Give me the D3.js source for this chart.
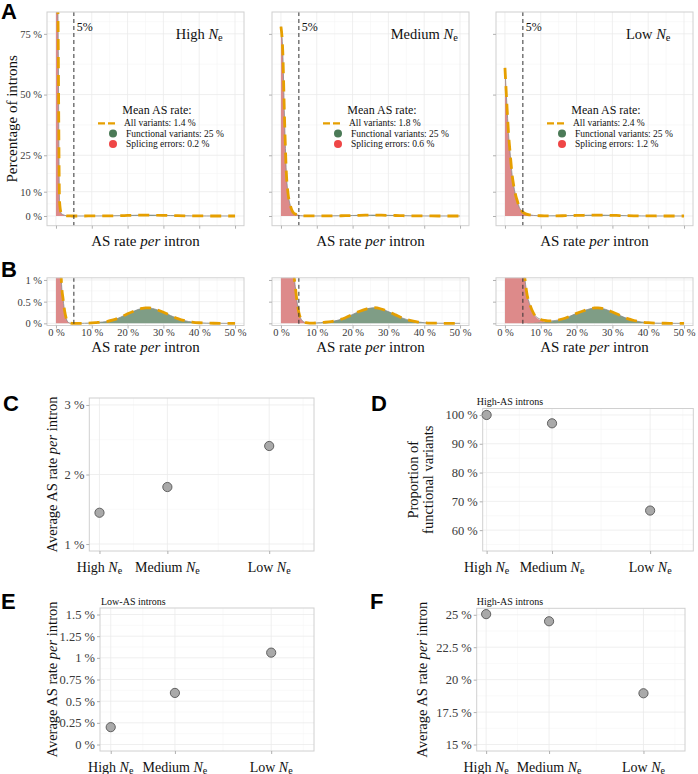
<!DOCTYPE html>
<html><head><meta charset="utf-8">
<script src="https://cdn.jsdelivr.net/npm/d3@7"></script>
<style>body{margin:0;background:#fff;} svg{display:block;}</style>
</head><body>
<svg id="chart" width="698" height="774"></svg>
<script>
// ================= DATA =================
// x grid of AS rate per intron (%)
const asRate = [0,0.5,1,1.5,2,2.5,3,3.5,4,4.5,5,6,7,8,9,10,11,12,14,16,18,20,22,24,25,26,28,30,32,34,36,38,40,42,44,46,48,50];
// density (% of introns) of splicing errors, per Ne class
const errHigh   = [95,88,6,1.0,0.55,0.25,0.08,0.02,0.005,0,0, 0,0,0,0,0,0,0, 0,0,0,0,0,0, 0,0, 0,0,0,0,0,0,0,0,0,0,0,0];
const errMedium = [78,68,40,18,9,5,2.6,1.3,0.85,0.5,0.25, 0.06,0.015,0.003,0,0,0,0, 0,0,0,0,0,0, 0,0, 0,0,0,0,0,0,0,0,0,0,0,0];
const errLow    = [61,47,34,25,17,12,8.5,6,3.6,2.4,1.6, 0.75,0.42,0.22,0.12,0.07,0.04,0.02, 0.005,0,0,0,0,0, 0,0, 0,0,0,0,0,0,0,0,0,0,0,0];
// density (% of introns) of functional variants
const funcHigh   = [0,0,0,0,0,0,0,0,0,0,0, 0,0,0.002,0.005,0.01,0.016,0.024, 0.04,0.078,0.14,0.22,0.29,0.345, 0.358,0.355, 0.32,0.255,0.18,0.11,0.06,0.03,0.013,0.005,0.002,0.001,0,0];
const funcMedium = [0,0,0,0,0,0,0,0,0,0,0, 0,0,0.002,0.005,0.01,0.015,0.022, 0.04,0.075,0.13,0.205,0.28,0.335, 0.352,0.36, 0.33,0.27,0.195,0.12,0.068,0.034,0.015,0.006,0.002,0.001,0,0];
const funcLow    = [0,0,0,0,0,0,0,0,0,0,0, 0.002,0.005,0.01,0.015,0.02,0.027,0.035, 0.06,0.1,0.16,0.23,0.29,0.34, 0.355,0.355, 0.325,0.26,0.185,0.115,0.065,0.032,0.014,0.005,0.002,0,0,0];

const neLevels = ["High", "Medium", "Low"];
const meanAll  = [1.4, 1.8, 2.4];
const meanFunc = [25, 25, 25];
const meanErr  = [0.2, 0.6, 1.2];

const yTicksA = [0, 10, 25, 50, 75];
const yTicksB = [0, 0.5, 1];
const xTicksAB = [0, 10, 20, 30, 40, 50];

// panel C: average AS rate per intron (%)
const avgAS = [1.45, 1.82, 2.41];
// panel D: proportion of functional variants in high-AS introns (%)
const propFunctional = [100, 97.1, 66.8];
// panel E: average AS rate, low-AS introns (%)
const avgLowAS = [0.2, 0.595, 1.06];
// panel F: average AS rate, high-AS introns (%)
const avgHighAS = [25.05, 24.5, 18.95];

const yTicksC = [1, 2, 3];
const yTicksD = [60, 70, 80, 90, 100];
const yTicksE = [0, 0.25, 0.5, 0.75, 1, 1.25, 1.5];
const yTicksF = [15, 17.5, 20, 22.5, 25];

// ================= STYLE =================
const SERIF = '"Liberation Serif","Times New Roman",serif';
const SANS = '"Liberation Sans",Arial,sans-serif';
const COL = {border:'#d0d0d0', major:'#ebebeb', minor:'#f5f5f5', tick:'#b0b0b0', tickText:'#3a3a3a',
  red:'#dd8a8a', green:'#7f9d86', orange:'#E69F00', legRed:'#ef4646', legGreen:'#4b7a57', line:'#8a8a8a'};

const svg = d3.select('#chart');
let clipN = 0;

function minorOf(ticks, domain) {
  const bd = ticks[1] - ticks[0];
  const ext = [ticks[0] - bd, ...ticks, ticks[ticks.length - 1] + bd];
  const out = [];
  for (let i = 1; i < ext.length; i++) out.push((ext[i] + ext[i - 1]) / 2);
  const lo = Math.min(...domain), hi = Math.max(...domain);
  return out.filter(v => v > lo && v < hi);
}

function drawPanelBg(x, y, xMaj, xMin, yMaj, yMin) {
  const [x0, x1] = x.range();
  const [yb, yt] = y.range();
  const g = svg.append('g');
  g.append('rect').attr('x', x0).attr('y', yt).attr('width', x1 - x0).attr('height', yb - yt).attr('fill', '#fff');
  g.selectAll('.vmin').data(xMin).join('line').attr('x1', d => x(d)).attr('x2', d => x(d)).attr('y1', yt).attr('y2', yb).attr('stroke', COL.minor).attr('stroke-width', 0.6);
  g.selectAll('.hmin').data(yMin).join('line').attr('y1', d => y(d)).attr('y2', d => y(d)).attr('x1', x0).attr('x2', x1).attr('stroke', COL.minor).attr('stroke-width', 0.6);
  g.selectAll('.vmaj').data(xMaj).join('line').attr('x1', d => x(d)).attr('x2', d => x(d)).attr('y1', yt).attr('y2', yb).attr('stroke', COL.major).attr('stroke-width', 0.8);
  g.selectAll('.hmaj').data(yMaj).join('line').attr('y1', d => y(d)).attr('y2', d => y(d)).attr('x1', x0).attr('x2', x1).attr('stroke', COL.major).attr('stroke-width', 0.8);
  const id = 'clip' + (clipN++);
  svg.append('clipPath').attr('id', id).append('rect').attr('x', x0).attr('y', yt).attr('width', x1 - x0).attr('height', yb - yt);
  return id;
}
function drawBorder(x, y) {
  const [x0, x1] = x.range();
  const [yb, yt] = y.range();
  svg.append('rect').attr('x', x0).attr('y', yt).attr('width', x1 - x0).attr('height', yb - yt)
    .attr('fill', 'none').attr('stroke', COL.border).attr('stroke-width', 1);
}
function styleAxis(g, fs) {
  g.select('.domain').remove();
  g.attr('font-family', SERIF).attr('font-size', fs);
  g.selectAll('.tick line').attr('stroke', COL.tick);
  g.selectAll('.tick text').attr('fill', COL.tickText).attr('font-family', SERIF).attr('font-size', fs);
}
function neText(sel, prefix) {
  sel.append('tspan').text(prefix + ' ');
  sel.append('tspan').attr('font-style', 'italic').text('N');
  sel.append('tspan').attr('font-size', '0.72em').attr('dy', '0.3em').text('e');
}
function perText(sel, pre, post) {
  sel.append('tspan').text(pre);
  sel.append('tspan').attr('font-style', 'italic').text('per');
  sel.append('tspan').text(post);
}
const pct = d => d + ' %';

// ================= PANELS A & B =================
const facetLeft = [47, 272, 496], facetW = 197;
const errSeries = [errHigh, errMedium, errLow];
const funcSeries = [funcHigh, funcMedium, funcLow];

function drawDensity(i, y, isA) {
  const left = facetLeft[i];
  const x = d3.scaleLinear().domain([-2.5, 52.5]).range([left, left + facetW]);
  const clip = drawPanelBg(x, y, xTicksAB, minorOf(xTicksAB, x.domain()), isA ? yTicksA : yTicksB, minorOf(isA ? yTicksA : yTicksB, y.domain()));
  const err = errSeries[i], fun = funcSeries[i];
  const pts = asRate.map((r, k) => ({r, e: err[k], f: fun[k], t: err[k] + fun[k]}));
  const g = svg.append('g').attr('clip-path', `url(#${clip})`);
  const area = key => d3.area().x(d => x(d.r)).y0(y(0)).y1(d => y(d[key])).curve(d3.curveMonotoneX);
  const line = key => d3.line().x(d => x(d.r)).y(d => y(d[key])).curve(d3.curveMonotoneX);
  g.append('path').datum(pts).attr('d', area('e')).attr('fill', COL.red);
  g.append('path').datum(pts).attr('d', area('f')).attr('fill', COL.green);
  g.append('path').datum(pts).attr('d', line('t')).attr('fill', 'none').attr('stroke', COL.line).attr('stroke-width', 0.8);
  g.append('path').datum(pts).attr('d', line('t')).attr('fill', 'none').attr('stroke', COL.orange).attr('stroke-width', 2.8).attr('stroke-dasharray', '11,7');
  const [yb, yt] = y.range();
  g.append('line').attr('x1', x(5)).attr('x2', x(5)).attr('y1', yt).attr('y2', yb).attr('stroke', '#333').attr('stroke-width', 1).attr('stroke-dasharray', '4,3');
  drawBorder(x, y);
  // axes
  const ay = svg.append('g').attr('transform', `translate(${left},0)`)
    .call(d3.axisLeft(y).tickValues(isA ? yTicksA : yTicksB).tickSize(3).tickPadding(2).tickFormat(i === 0 ? pct : () => ''));
  styleAxis(ay, 10.5);
  const ax = svg.append('g').attr('transform', `translate(0,${yb})`)
    .call(d3.axisBottom(x).tickValues(xTicksAB).tickSize(3).tickPadding(0).tickFormat(isA ? () => '' : pct));
  styleAxis(ax, 10.5);
  // x title
  const xt = svg.append('text').attr('x', left + facetW / 2).attr('y', isA ? 241 : 346.5)
    .attr('text-anchor', 'middle').attr('dominant-baseline', 'central')
    .attr('font-family', SERIF).attr('font-size', 15).attr('fill', '#111');
  perText(xt, 'AS rate ', ' intron');
  if (isA) {
    svg.append('text').attr('x', x(5) + 3).attr('y', y(78)).attr('dominant-baseline', 'central')
      .attr('font-family', SERIF).attr('font-size', 12).attr('fill', '#111').text('5%');
    const fl = svg.append('text').attr('x', x(40)).attr('y', y(75)).attr('text-anchor', 'middle').attr('dominant-baseline', 'central')
      .attr('font-family', SERIF).attr('font-size', 14.5).attr('fill', '#111');
    neText(fl, neLevels[i]);
    // legend
    const lg = svg.append('g').attr('font-family', SERIF).attr('fill', '#111');
    lg.append('text').attr('x', left + 110).attr('y', 110).attr('text-anchor', 'middle').attr('dominant-baseline', 'central')
      .attr('font-size', 12).text('Mean AS rate:');
    lg.append('line').attr('x1', left + 51).attr('x2', left + 69).attr('y1', 123.3).attr('y2', 123.3)
      .attr('stroke', COL.orange).attr('stroke-width', 2.2).attr('stroke-dasharray', '7,3');
    lg.append('text').attr('x', left + 77).attr('y', 123.3).attr('dominant-baseline', 'central').attr('font-size', 9.5)
      .text('All variants: ' + meanAll[i] + ' %');
    lg.append('circle').attr('cx', left + 66).attr('cy', 133.5).attr('r', 4).attr('fill', COL.legGreen);
    lg.append('text').attr('x', left + 79).attr('y', 133.5).attr('dominant-baseline', 'central').attr('font-size', 9.5)
      .text('Functional variants: ' + meanFunc[i] + ' %');
    lg.append('circle').attr('cx', left + 66).attr('cy', 144).attr('r', 4).attr('fill', COL.legRed);
    lg.append('text').attr('x', left + 79).attr('y', 144).attr('dominant-baseline', 'central').attr('font-size', 9.5)
      .text('Splicing errors: ' + meanErr[i] + ' %');
  }
}

const yA = d3.scaleLinear().domain([-4, 84]).range([225.7, 12]);
const yB = d3.scaleLinear().domain([-0.05, 1.05]).range([325.5, 277.8]);
for (let i = 0; i < 3; i++) { drawDensity(i, yA, true); drawDensity(i, yB, false); }

svg.append('text').attr('transform', `translate(12,${(225.7 + 12) / 2}) rotate(-90)`)
  .attr('text-anchor', 'middle').attr('dominant-baseline', 'central')
  .attr('font-family', SERIF).attr('font-size', 15).attr('fill', '#111').text('Percentage of introns');

// ================= PANELS C-F =================
const nePos = d3.scaleOrdinal().domain(neLevels).range([0, 1, 2.5]);
const scatterPanels = [
  {vals: avgAS, L: 89.3, R: 314, T: 398, B: 551, xd: [-0.15, 3.16], yd: [0.9, 3.1], yt: yTicksC, ylab: 'per', labX: 51.7, title: null},
  {vals: propFunctional, L: 482.7, R: 693.3, T: 408.5, B: 551, xd: [-0.06, 3.16], yd: [52.75, 102.25], yt: yTicksD, ylab: 'prop', labX: 420, title: 'High-AS introns', titleX: 476.7, titleY: 401.7},
  {vals: avgLowAS, L: 100, R: 314, T: 608, B: 751, xd: [-0.167, 3.167], yd: [-0.075, 1.575], yt: yTicksE, ylab: 'per', labX: 51.7, title: 'Low-AS introns', titleX: 101, titleY: 601.7},
  {vals: avgHighAS, L: 476.7, R: 685, T: 608.3, B: 751, xd: [-0.15, 3.16], yd: [14.5, 25.5], yt: yTicksF, ylab: 'per', labX: 421.7, title: 'High-AS introns', titleX: 476.7, titleY: 601.7}
];

scatterPanels.forEach(p => {
  const x = d3.scaleLinear().domain(p.xd).range([p.L, p.R]);
  const y = d3.scaleLinear().domain(p.yd).range([p.B, p.T]);
  const xMaj = neLevels.map(n => nePos(n));
  drawPanelBg(x, y, xMaj, minorOf(xMaj, p.xd), p.yt, minorOf(p.yt, p.yd));
  drawBorder(x, y);
  svg.append('g').selectAll('circle').data(neLevels).join('circle')
    .attr('cx', n => x(nePos(n))).attr('cy', (n, i) => y(p.vals[i])).attr('r', 4.6)
    .attr('fill', '#a9a9a9').attr('stroke', '#555').attr('stroke-width', 0.9);
  const ay = svg.append('g').attr('transform', `translate(${p.L},0)`)
    .call(d3.axisLeft(y).tickValues(p.yt).tickSize(3).tickPadding(2).tickFormat(pct));
  styleAxis(ay, 12.5);
  const ax = svg.append('g').attr('transform', `translate(0,${p.B})`)
    .call(d3.axisBottom(x).tickValues(xMaj).tickSize(3).tickFormat(() => ''));
  styleAxis(ax, 12.5);
  neLevels.forEach(n => {
    const t = svg.append('text').attr('x', x(nePos(n))).attr('y', p.B + 15.5).attr('text-anchor', 'middle')
      .attr('dominant-baseline', 'central').attr('font-family', SERIF).attr('font-size', 14).attr('fill', '#111');
    neText(t, n);
  });
  const cy = (p.T + p.B) / 2;
  if (p.ylab === 'per') {
    const t = svg.append('text').attr('transform', `translate(${p.labX},${cy}) rotate(-90)`)
      .attr('text-anchor', 'middle').attr('dominant-baseline', 'central')
      .attr('font-family', SERIF).attr('font-size', 14.5).attr('fill', '#111');
    perText(t, 'Average AS rate ', ' intron');
  } else {
    svg.append('text').attr('transform', `translate(413,${cy}) rotate(-90)`)
      .attr('text-anchor', 'middle').attr('dominant-baseline', 'central')
      .attr('font-family', SERIF).attr('font-size', 14.5).attr('fill', '#111').text('Proportion of');
    svg.append('text').attr('transform', `translate(428,${cy}) rotate(-90)`)
      .attr('text-anchor', 'middle').attr('dominant-baseline', 'central')
      .attr('font-family', SERIF).attr('font-size', 14.5).attr('fill', '#111').text('functional variants');
  }
  if (p.title) {
    svg.append('text').attr('x', p.titleX).attr('y', p.titleY).attr('dominant-baseline', 'central')
      .attr('font-family', SERIF).attr('font-size', 10).attr('fill', '#111').text(p.title);
  }
});

// panel letters
[['A', 1, 19], ['B', 1, 277], ['C', 3, 411], ['D', 371, 411], ['E', 1, 609], ['F', 370, 609]].forEach(([l, x, y]) => {
  svg.append('text').attr('x', x).attr('y', y).attr('font-family', SANS).attr('font-weight', 'bold')
    .attr('font-size', 22).attr('fill', '#000').text(l);
});
</script>
</body></html>
